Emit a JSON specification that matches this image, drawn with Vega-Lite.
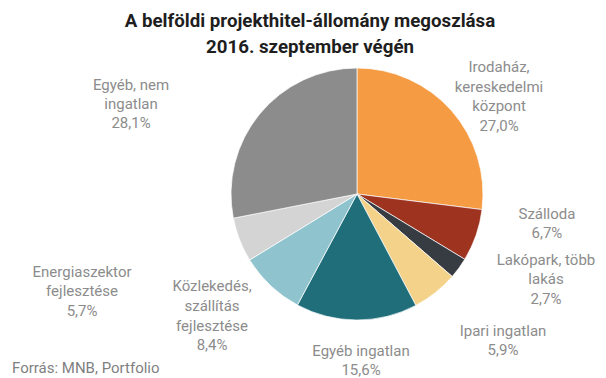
{
  "$schema": "https://vega.github.io/schema/vega-lite/v6.json",
  "padding": {"left": 12, "top": 12, "right": 0, "bottom": 0},
  "background": "white",
  "config": {"view": {"stroke": null}, "font": "Roboto", "concat": {"spacing": 0}},
  "title": {"text": "Forrás: MNB, Portfolio", "orient": "bottom", "anchor": "start", "frame": "group", "dx": -96, "dy": -23, "offset": 6, "fontSize": 15, "fontWeight": "normal", "color": "#7f7f7f", "font": "Roboto"},
  "vconcat": [
    {
      "title": {"text": ["A belföldi projekthitel-állomány megoszlása", "2016. szeptember végén"], "fontSize": 18.7, "fontWeight": "bold", "lineHeight": 26, "dx": -47, "color": "#1e1e1e", "anchor": "middle", "offset": 3, "font": "Roboto"},
      "width": 498,
      "height": 262,
      "data": {"values": [
        {"idx": 1, "name": "Irodaház, kereskedelmi központ", "label": "Irodaház,\nkereskedelmi\nközpont", "value": 27.0},
        {"idx": 2, "name": "Szálloda", "label": "Szálloda", "value": 6.7},
        {"idx": 3, "name": "Lakópark, több lakás", "label": "Lakópark, több\nlakás", "value": 2.7},
        {"idx": 4, "name": "Ipari ingatlan", "label": "Ipari ingatlan", "value": 5.9},
        {"idx": 5, "name": "Egyéb ingatlan", "label": "Egyéb ingatlan", "value": 15.6},
        {"idx": 6, "name": "Közlekedés, szállítás fejlesztése", "label": "Közlekedés,\nszállítás\nfejlesztése", "value": 8.4},
        {"idx": 7, "name": "Energiaszektor fejlesztése", "label": "Energiaszektor\nfejlesztése", "value": 5.7},
        {"idx": 8, "name": "Egyéb, nem ingatlan", "label": "Egyéb, nem\ningatlan", "value": 28.1}
      ]},
      "transform": [
        {"stack": "value", "groupby": [], "sort": [{"field": "idx", "order": "ascending"}], "as": ["v0", "v1"]},
        {"calculate": "(datum.v0 + datum.v1) / 2", "as": "mid"},
        {"calculate": "datum.label + '\\n' + replace(format(datum.value, '.1f'), '.', ',') + '%'", "as": "txt"}
      ],
      "layer": [
        {
          "mark": {"type": "arc", "radius": 126, "stroke": "white", "strokeWidth": 0.7},
          "encoding": {
            "theta": {"field": "v0", "type": "quantitative", "stack": null, "scale": {"domain": [0, 100.1]}},
            "theta2": {"field": "v1"},
            "color": {"field": "name", "type": "nominal", "legend": null,
              "scale": {"domain": ["Irodaház, kereskedelmi központ", "Szálloda", "Lakópark, több lakás", "Ipari ingatlan", "Egyéb ingatlan", "Közlekedés, szállítás fejlesztése", "Energiaszektor fejlesztése", "Egyéb, nem ingatlan"],
                "range": ["#F59B43", "#9E3320", "#373C43", "#F4D28A", "#1F6E7A", "#8FC4CE", "#D4D4D4", "#8C8C8C"]}}
          }
        },
        {"transform": [{"filter": "datum.idx == 1"}], "mark": {"type": "text", "radius": 190.5, "thetaOffset": -0.006, "fontSize": 15, "lineHeight": 19.5, "lineBreak": "\n", "align": "center", "baseline": "middle", "color": "#8c8c8c"},
          "encoding": {"theta": {"field": "mid", "type": "quantitative", "stack": null, "scale": {"domain": [0, 100.1]}}, "text": {"field": "txt"}}},
        {"transform": [{"filter": "datum.idx == 2"}], "mark": {"type": "text", "radius": 191.0, "thetaOffset": -0.2295, "fontSize": 15, "lineHeight": 19.5, "lineBreak": "\n", "align": "center", "baseline": "middle", "color": "#8c8c8c"},
          "encoding": {"theta": {"field": "mid", "type": "quantitative", "stack": null, "scale": {"domain": [0, 100.1]}}, "text": {"field": "txt"}}},
        {"transform": [{"filter": "datum.idx == 3"}], "mark": {"type": "text", "radius": 200.2, "thetaOffset": -0.2934, "fontSize": 15, "lineHeight": 19.5, "lineBreak": "\n", "align": "center", "baseline": "middle", "color": "#8c8c8c"},
          "encoding": {"theta": {"field": "mid", "type": "quantitative", "stack": null, "scale": {"domain": [0, 100.1]}}, "text": {"field": "txt"}}},
        {"transform": [{"filter": "datum.idx == 4"}], "mark": {"type": "text", "radius": 200.2, "thetaOffset": -0.1457, "fontSize": 15, "lineHeight": 19.5, "lineBreak": "\n", "align": "center", "baseline": "middle", "color": "#8c8c8c"},
          "encoding": {"theta": {"field": "mid", "type": "quantitative", "stack": null, "scale": {"domain": [0, 100.1]}}, "text": {"field": "txt"}}},
        {"transform": [{"filter": "datum.idx == 5"}], "mark": {"type": "text", "radius": 157.05, "thetaOffset": -0.0286, "fontSize": 15, "lineHeight": 19.5, "lineBreak": "\n", "align": "center", "baseline": "middle", "color": "#8c8c8c"},
          "encoding": {"theta": {"field": "mid", "type": "quantitative", "stack": null, "scale": {"domain": [0, 100.1]}}, "text": {"field": "txt"}}},
        {"transform": [{"filter": "datum.idx == 6"}], "mark": {"type": "text", "radius": 171.7, "thetaOffset": 0.2489, "fontSize": 15, "lineHeight": 19.8, "lineBreak": "\n", "align": "center", "baseline": "middle", "color": "#8c8c8c"},
          "encoding": {"theta": {"field": "mid", "type": "quantitative", "stack": null, "scale": {"domain": [0, 100.1]}}, "text": {"field": "txt"}}},
        {"transform": [{"filter": "datum.idx == 7"}], "mark": {"type": "text", "radius": 285.8, "thetaOffset": 0.0955, "fontSize": 15, "lineHeight": 19.5, "lineBreak": "\n", "align": "center", "baseline": "middle", "color": "#8c8c8c"},
          "encoding": {"theta": {"field": "mid", "type": "quantitative", "stack": null, "scale": {"domain": [0, 100.1]}}, "text": {"field": "txt"}}},
        {"transform": [{"filter": "datum.idx == 8"}], "mark": {"type": "text", "radius": 251.0, "thetaOffset": -0.2384, "fontSize": 15, "lineHeight": 19.3, "lineBreak": "\n", "align": "center", "baseline": "middle", "color": "#8c8c8c"},
          "encoding": {"theta": {"field": "mid", "type": "quantitative", "stack": null, "scale": {"domain": [0, 100.1]}}, "text": {"field": "txt"}}}
      ]
    }
  ]
}
